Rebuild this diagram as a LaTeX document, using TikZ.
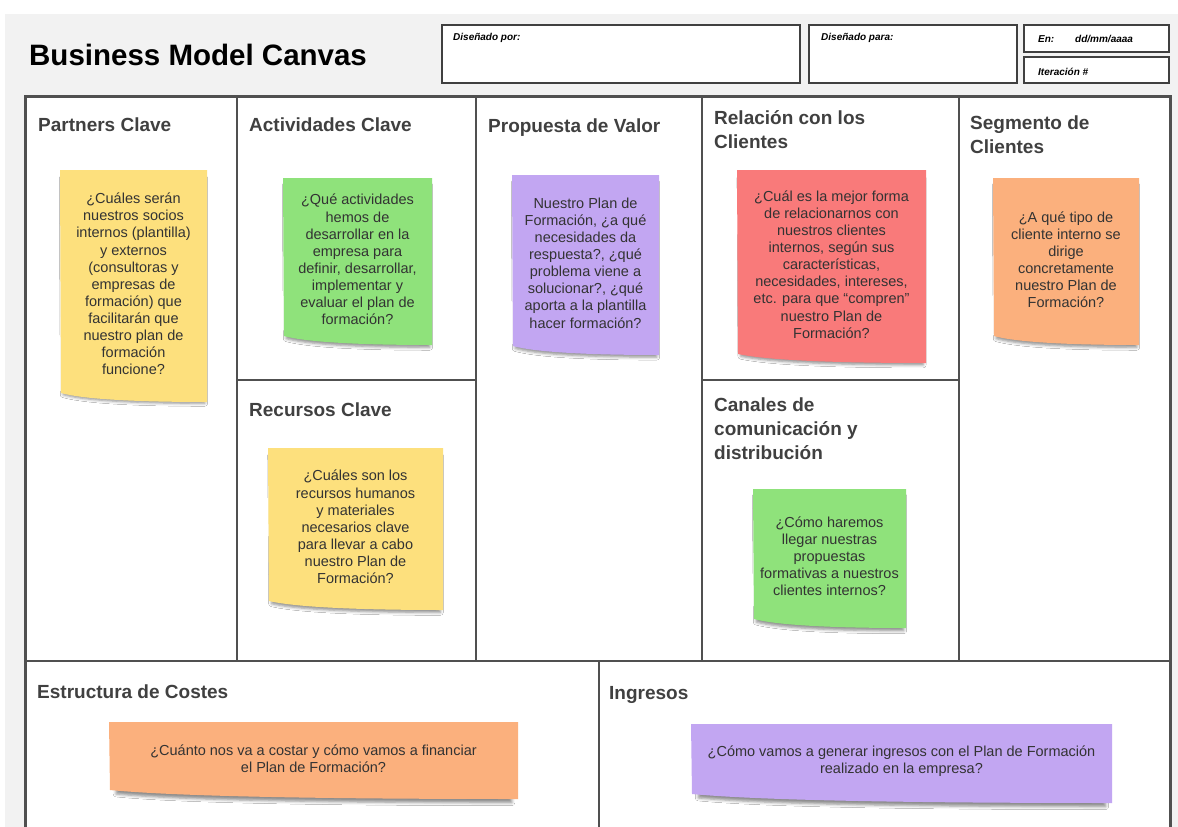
\documentclass[tikz,border=0pt]{standalone}
\usepackage{fontspec}
\setmainfont{Liberation Sans}
\usetikzlibrary{shadows.blur}

\definecolor{paper}{HTML}{F2F2F2}
\definecolor{rule}{HTML}{505050}
\definecolor{ink}{HTML}{404040}
\definecolor{noteink}{HTML}{333333}
\definecolor{noteyellow}{HTML}{FDE07D}
\definecolor{notegreen}{HTML}{8FE27B}
\definecolor{notepurple}{HTML}{C2A6F2}
\definecolor{notered}{HTML}{F97A7A}
\definecolor{noteorange}{HTML}{FBB07D}

\tikzset{
  heading/.style={anchor=base west, inner sep=0pt, align=left, text=ink,
    font=\fontsize{19}{23.7}\selectfont\bfseries},
  notetext/.style={align=center, inner sep=0pt, text=noteink,
    font=\fontsize{14.5}{17.1}\selectfont},
  infobox/.style={draw=black!75, line width=1.2pt, fill=white},
  infotext/.style={anchor=base west, inner sep=0pt,
    font=\fontsize{10}{12}\selectfont\bfseries\itshape},
  notepaper/.style={fill=#1, blur shadow={shadow xshift=0pt, shadow yshift=-5pt,
    shadow scale=0.97, shadow blur radius=3pt, shadow opacity=45}},
}

% sticky note: name, left, top, right, bottom, colour, text
\newcommand\postit[7]{
  \fill[notepaper=#6] (#2,#3) -- (#4,#3) -- (#4,#5)
    .. controls ({#2+0.5*(#4-#2)},#5) and ({#2+0.15*(#4-#2)},{#5-3}) .. ({#2+1},{#5-9}) -- cycle;
  \node[notetext] (#1) at ({(#2+#4)/2},{(#3+#5)/2-2}) {#7};
}

\begin{document}
\begin{tikzpicture}[x=1pt,y=-1pt]
\useasboundingbox (0,0) rectangle (1178,827);
\fill[paper] (5,14) rectangle (1178,827);

% header
\node[anchor=base west, inner sep=0pt, font=\fontsize{29.5}{36}\selectfont\bfseries]
  (title) at (29,65) {Business Model Canvas};
\draw[infobox] (442,25) rectangle (800,83);
\draw[infobox] (809,25) rectangle (1017,83);
\draw[infobox] (1024,25) rectangle (1169,52);
\draw[infobox] (1024,57) rectangle (1169,83);
\node[infotext] (por) at (453,40) {Diseñado por:};
\node[infotext] (para) at (821,40) {Diseñado para:};
\node[infotext] (en) at (1038,42) {En:};
\node[infotext] (fecha) at (1075,42) {dd/mm/aaaa};
\node[infotext] (iter) at (1038,75) {Iteración \#};

% canvas grid
\fill[white] (25,96) rectangle (1170,840);
\draw[rule, line width=1.6pt] (237,96) -- (237,661);
\draw[rule, line width=1.6pt] (476,96) -- (476,661);
\draw[rule, line width=1.6pt] (702,96) -- (702,661);
\draw[rule, line width=1.6pt] (959,96) -- (959,661);
\draw[rule, line width=1.6pt] (237,380) -- (476,380);
\draw[rule, line width=1.6pt] (702,380) -- (959,380);
\draw[rule, line width=1.6pt] (25,661) -- (1170,661);
\draw[rule, line width=1.6pt] (599,661) -- (599,840);
\draw[rule, line width=3pt] (25,840) -- (25,96) -- (1170,96) -- (1170,840);

% block titles (base = last line)
\node[heading] (partners) at (38,131) {Partners Clave};
\node[heading] (actividades) at (249,131) {Actividades Clave};
\node[heading] (propuesta) at (488,132) {Propuesta de Valor};
\node[heading] (relacion) at (714,148) {Relación con los\\Clientes};
\node[heading] (segmento) at (970,153) {Segmento de\\Clientes};
\node[heading] (recursos) at (249,416) {Recursos Clave};
\node[heading] (canales) at (714,459) {Canales de\\comunicación y\\distribución};
\node[heading] (costes) at (37,698) {Estructura de Costes};
\node[heading] (ingresos) at (609,699) {Ingresos};

% notes
\postit{partnersnote}{60}{170}{207}{402}{noteyellow}{¿Cuáles serán\\nuestros socios\\internos (plantilla)\\y externos\\(consultoras y\\empresas de\\formación) que\\facilitarán que\\nuestro plan de\\formación\\funcione?}
\postit{actividadesnote}{283}{178}{432}{345}{notegreen}{¿Qué actividades\\hemos de\\desarrollar en la\\empresa para\\definir, desarrollar,\\implementar y\\evaluar el plan de\\formación?}
\postit{propuestanote}{512}{175}{659}{355}{notepurple}{Nuestro Plan de\\Formación, ¿a qué\\necesidades da\\respuesta?, ¿qué\\problema viene a\\solucionar?, ¿qué\\aporta a la plantilla\\hacer formación?}
\postit{relacionnote}{737}{170}{926}{363}{notered}{¿Cuál es la mejor forma\\de relacionarnos con\\nuestros clientes\\internos, según sus\\características,\\necesidades, intereses,\\etc. para que “compren”\\nuestro Plan de\\Formación?}
\postit{segmentonote}{993}{178}{1139}{345}{noteorange}{¿A qué tipo de\\cliente interno se\\dirige\\concretamente\\nuestro Plan de\\Formación?}
\postit{recursosnote}{268}{448}{443}{610}{noteyellow}{¿Cuáles son los\\recursos humanos\\y materiales\\necesarios clave\\para llevar a cabo\\nuestro Plan de\\Formación?}
\postit{canalesnote}{753}{489}{906}{628}{notegreen}{¿Cómo haremos\\llegar nuestras\\propuestas\\formativas a nuestros\\clientes internos?}
\postit{costesnote}{109}{722}{518}{799}{noteorange}{¿Cuánto nos va a costar y cómo vamos a financiar\\el Plan de Formación?}
\postit{ingresosnote}{691}{724}{1112}{803}{notepurple}{¿Cómo vamos a generar ingresos con el Plan de Formación\\realizado en la empresa?}
\end{tikzpicture}
\end{document}
